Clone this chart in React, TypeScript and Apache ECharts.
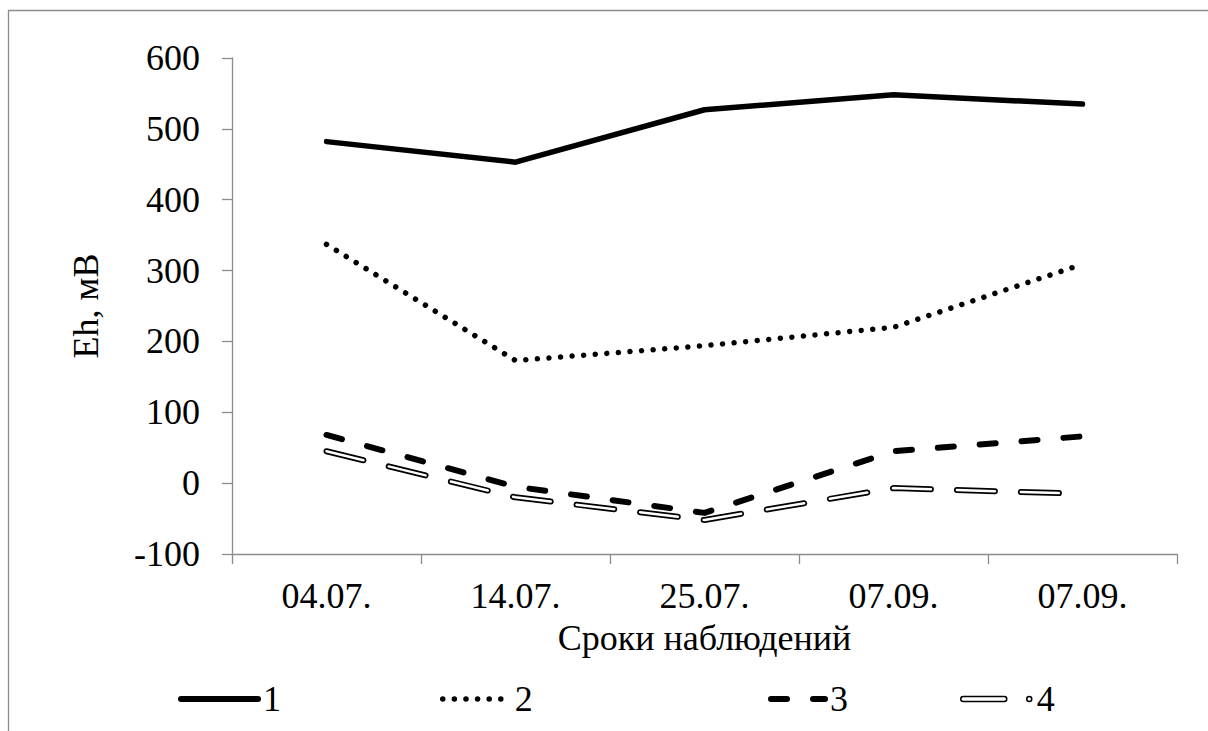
import React, { useEffect, useRef } from 'react';
import * as echarts from 'echarts';

const categories = ['04.07.', '14.07.', '25.07.', '07.09.', '07.09.'];
const series1 = [482, 453, 527, 548, 535];
const series2 = [337, 173, 194, 220, 309];
const series3 = [68, -5, -42, 45, 66];
const series4 = [45, -20, -52, -7, -15];
const yMin = -100;
const yMax = 600;
const yStep = 100;

const FONT = "'Liberation Serif', 'Times New Roman', serif";
const AXIS_COLOR = '#8c8c8c';
const PILL_DOT_ICON =
  'path://M3,0.5 L44,0.5 A2.5,2.5 0 0 1 44,5.5 L3,5.5 A2.5,2.5 0 0 1 3,0.5 Z ' +
  'M66.5,3 A2.5,2.5 0 1 0 71.5,3 A2.5,2.5 0 1 0 66.5,3 Z';

export default function App() {
  const ref = useRef<HTMLDivElement>(null);
  useEffect(() => {
    if (!ref.current) return;
    const chart = echarts.init(ref.current, undefined, { renderer: 'svg' });
    const legendText = { fontSize: 36, fontFamily: FONT, color: '#000' };
    const hiddenItem = { color: 'rgba(0,0,0,0)', borderWidth: 0 };
    chart.setOption({
      animation: false,
      backgroundColor: '#fff',
      textStyle: { fontFamily: FONT, color: '#000' },
      grid: { left: 232, right: 31, top: 58, bottom: 177, containLabel: false },
      xAxis: {
        type: 'category',
        data: categories,
        boundaryGap: true,
        name: 'Сроки наблюдений',
        nameLocation: 'middle',
        nameGap: 66,
        nameTextStyle: { fontSize: 36, fontFamily: FONT, color: '#000' },
        axisLine: { show: true, onZero: false, lineStyle: { color: AXIS_COLOR, width: 1.3 } },
        axisTick: { show: true, inside: false, length: 10, alignWithLabel: false, lineStyle: { color: AXIS_COLOR, width: 1.3 } },
        axisLabel: { fontSize: 36, fontFamily: FONT, color: '#000', margin: 24, interval: 0 },
        splitLine: { show: false },
      },
      yAxis: {
        type: 'value',
        min: yMin,
        max: yMax,
        interval: yStep,
        name: 'Eh, мВ',
        nameLocation: 'middle',
        nameGap: 128,
        nameRotate: 90,
        nameTextStyle: { fontSize: 36, fontFamily: FONT, color: '#000' },
        axisLine: { show: true, lineStyle: { color: AXIS_COLOR, width: 1.3 } },
        axisTick: { show: true, inside: false, length: 10, lineStyle: { color: AXIS_COLOR, width: 1.3 } },
        axisLabel: { fontSize: 36, fontFamily: FONT, color: '#000', margin: 32 },
        splitLine: { show: false },
      },
      legend: [
        {
          data: ['1'], left: 173, top: 676, itemWidth: 77, itemHeight: 40, selectedMode: false,
          textStyle: legendText, lineStyle: { width: 6 }, itemStyle: hiddenItem,
        },
        {
          data: ['2'], left: 435, top: 676, itemWidth: 67, itemHeight: 40, selectedMode: false,
          textStyle: legendText, lineStyle: { width: 5.5 }, itemStyle: hiddenItem,
        },
        {
          data: ['3'], left: 763, top: 676, itemWidth: 54, itemHeight: 40, selectedMode: false,
          textStyle: legendText, lineStyle: { width: 6 }, itemStyle: hiddenItem,
        },
        {
          data: ['4'], left: 955, top: 676, itemWidth: 71, itemHeight: 5, selectedMode: false,
          icon: PILL_DOT_ICON,
          textStyle: legendText,
          itemStyle: { color: '#fff', borderColor: '#000', borderWidth: 1.5 },
        },
      ],
      graphic: [
        {
          type: 'rect', silent: true, z: -10,
          shape: { x: 8.5, y: 10.5, width: 1400, height: 1000 },
          style: { fill: 'none', stroke: AXIS_COLOR, lineWidth: 1.3 },
        },
      ],
      series: [
        {
          name: '1', type: 'line', data: series1, symbol: 'none', z: 5,
          lineStyle: { color: '#000', width: 5.5, cap: 'round', join: 'round' },
          itemStyle: { color: '#000' },
        },
        {
          name: '2', type: 'line', data: series2, symbol: 'none', z: 5,
          lineStyle: { color: '#000', width: 5.5, type: [0.01, 11.6], cap: 'round', join: 'round' },
          itemStyle: { color: '#000' },
        },
        {
          name: '3', type: 'line', data: series3, symbol: 'none', z: 5,
          lineStyle: { color: '#000', width: 6, type: [16, 26], cap: 'round', join: 'round' },
          itemStyle: { color: '#000' },
        },
        {
          name: '4 контур', type: 'line', data: series4, symbol: 'none', z: 4,
          lineStyle: { color: '#000', width: 6, type: [38, 26], cap: 'round', join: 'round' },
          itemStyle: { color: '#000' },
        },
        {
          name: '4', type: 'line', data: series4, symbol: 'none', z: 6,
          lineStyle: { color: '#fff', width: 2.5, type: [38, 26], cap: 'round', join: 'round' },
          itemStyle: { color: '#fff', borderColor: '#000', borderWidth: 1.5 },
        },
      ],
    });
    return () => chart.dispose();
  }, []);
  return (
    <div
      ref={ref}
      style={{ position: 'absolute', left: 0, top: 0, width: 1208, height: 731, background: '#fff' }}
    />
  );
}
